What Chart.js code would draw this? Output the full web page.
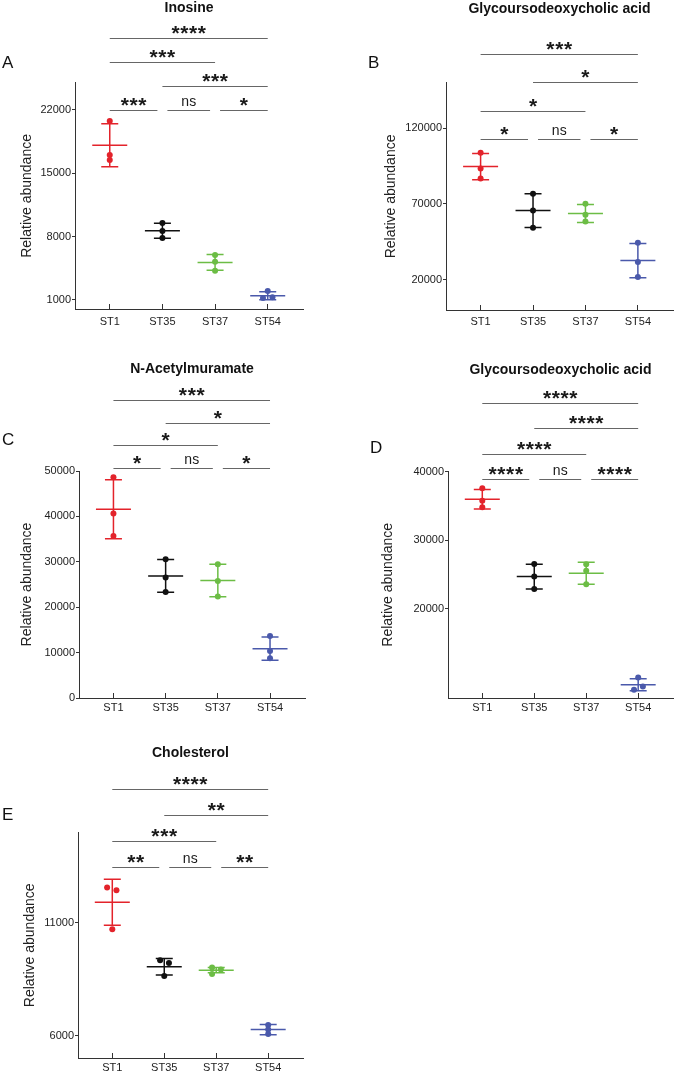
<!DOCTYPE html>
<html>
<head>
<meta charset="utf-8">
<script src="https://cdn.jsdelivr.net/npm/chart.js@4.4.1/dist/chart.umd.min.js"></script>
<style>
  body { margin: 0; background: #fff; width: 677px; height: 1073px; position: relative; overflow: hidden; font-family: "Liberation Sans", Arial, sans-serif; }
  .panel { position: absolute; }
  .letter { position: absolute; font-size: 17px; line-height: 18px; color: #111; }
</style>
</head>
<body>
<div class="panel" style="left:0;top:0"><canvas id="cA" width="338" height="330"></canvas></div>
<div class="panel" style="left:340px;top:0"><canvas id="cB" width="337" height="330"></canvas></div>
<div class="panel" style="left:0;top:330px"><canvas id="cC" width="338" height="390"></canvas></div>
<div class="panel" style="left:340px;top:330px"><canvas id="cD" width="337" height="390"></canvas></div>
<div class="panel" style="left:0;top:720px"><canvas id="cE" width="338" height="353"></canvas></div>
<div class="letter" style="left:2px;top:54px">A</div>
<div class="letter" style="left:368px;top:54px">B</div>
<div class="letter" style="left:2px;top:431px">C</div>
<div class="letter" style="left:370px;top:439px">D</div>
<div class="letter" style="left:2px;top:806px">E</div>
<script>
const groups = ['ST1', 'ST35', 'ST37', 'ST54'];

// A - Inosine
const inosinePoints = [[20780, 17020, 16470], [9500, 8620, 7850], [5970, 5230, 4230], [1980, 1210, 1300]];
const inosineMean = [18090, 8660, 5140, 1470];
const inosineSd = [2380, 830, 870, 440];
const inosineJitter = [[0, 0, 0], [0, 0, 0], [0, 0, 0], [0, -0.09, 0.09]];
const inosineTicks = [1000, 8000, 15000, 22000];
const inosineSig = [[0, 1, 0, '***'], [1, 2, 0, 'ns'], [2, 3, 0, '*'], [1, 3, 1, '***'], [0, 2, 2, '***'], [0, 3, 3, '****']];

// B - Glycoursodeoxycholic acid
const gudcaPoints = [[103840, 93400, 86760], [76780, 65680, 54380], [70130, 62820, 58360], [44400, 31770, 21800]];
const gudcaMean = [94670, 65610, 63770, 32660];
const gudcaSd = [8600, 11200, 5950, 11300];
const gudcaJitter = [[0, 0, 0], [0, 0, 0], [0, 0, 0], [0, 0, 0]];
const gudcaTicks = [20000, 70000, 120000];
const gudcaSig = [[0, 1, 0, '*'], [1, 2, 0, 'ns'], [2, 3, 0, '*'], [0, 2, 1, '*'], [1, 3, 2, '*'], [0, 3, 3, '***']];

// C - N-Acetylmuramate
const namPoints = [[48620, 40640, 35680], [30580, 26520, 23360], [29470, 25790, 22380], [13670, 10350, 8730]];
const namMean = [41590, 26890, 25860, 10860];
const namSd = [6500, 3600, 3580, 2550];
const namJitter = [[0, 0, 0], [0, 0, 0], [0, 0, 0], [0, 0, 0]];
const namTicks = [0, 10000, 20000, 30000, 40000, 50000];
const namSig = [[0, 1, 0, '*'], [1, 2, 0, 'ns'], [2, 3, 0, '*'], [0, 2, 1, '*'], [1, 3, 2, '*'], [0, 3, 3, '***']];

// D - Glycoursodeoxycholic acid
const gudca2Points = [[37580, 35780, 34820], [26550, 24700, 22910], [26500, 25570, 23590], [10000, 8690, 8210]];
const gudca2Mean = [35980, 24700, 25190, 8930];
const gudca2Sd = [1430, 1820, 1600, 880];
const gudca2Jitter = [[0, 0, 0], [0, 0, 0], [0, 0, 0], [0, 0.09, -0.08]];
const gudca2Ticks = [20000, 30000, 40000];
const gudca2Sig = [[0, 1, 0, '****'], [1, 2, 0, 'ns'], [2, 3, 0, '****'], [0, 2, 1, '****'], [1, 3, 2, '****'], [0, 3, 3, '****']];

// E - Cholesterol
const cholPoints = [[12570, 12450, 10720], [9340, 9220, 8640], [9020, 8930, 8730], [6470, 6260, 6060]];
const cholMean = [11910, 9050, 8900, 6260];
const cholSd = [1020, 370, 120, 230];
const cholJitter = [[-0.1, 0.08, 0], [-0.08, 0.09, 0], [-0.08, 0.09, -0.08], [0, 0, 0]];
const cholTicks = [6000, 11000];
const cholSig = [[0, 1, 0, '**'], [1, 2, 0, 'ns'], [2, 3, 0, '**'], [0, 2, 1, '***'], [1, 3, 2, '**'], [0, 3, 3, '****']];

const colors = ['#e3232b', '#111111', '#6cbd45', '#4a59ab'];
const FONT = '"Liberation Sans", Arial, sans-serif';

// mean line + SD whiskers under the dots
const summaryPlugin = {
    id: 'summary',
    beforeDatasetsDraw(chart, args, opts) {
        const ctx = chart.ctx, xs = chart.scales.x, ys = chart.scales.y;
        opts.mean.forEach((m, g) => {
            const cx = xs.getPixelForValue(g + 1);
            const yM = ys.getPixelForValue(m);
            const yHi = ys.getPixelForValue(m + opts.sd[g]);
            const yLo = ys.getPixelForValue(m - opts.sd[g]);
            ctx.save();
            ctx.strokeStyle = colors[g];
            ctx.lineWidth = 1.5;
            ctx.beginPath();
            ctx.moveTo(cx - 17.5, yM); ctx.lineTo(cx + 17.5, yM);
            ctx.moveTo(cx, yHi); ctx.lineTo(cx, yLo);
            ctx.moveTo(cx - 8.5, yHi); ctx.lineTo(cx + 8.5, yHi);
            ctx.moveTo(cx - 8.5, yLo); ctx.lineTo(cx + 8.5, yLo);
            ctx.stroke();
            ctx.restore();
        });
    }
};

// significance brackets above the groups
const sigPlugin = {
    id: 'sig',
    afterDraw(chart, args, opts) {
        const ctx = chart.ctx, xs = chart.scales.x, top = chart.chartArea.top;
        opts.list.forEach((cur) => {
            const [a, b, lvl, label] = cur;
            const shared = (v) => opts.list.some(s => s !== cur && s[2] === lvl && (s[0] === v || s[1] === v));
            let x1 = xs.getPixelForValue(a + 1), x2 = xs.getPixelForValue(b + 1);
            if (shared(a)) x1 += 5;
            if (shared(b)) x2 -= 5;
            const y = Math.round(top + opts.base - lvl * opts.step) + 0.5;
            ctx.save();
            ctx.strokeStyle = '#666';
            ctx.lineWidth = 1;
            ctx.beginPath();
            ctx.moveTo(x1, y); ctx.lineTo(x2, y);
            ctx.stroke();
            ctx.fillStyle = '#1a1a1a';
            ctx.textAlign = 'center';
            ctx.textBaseline = 'alphabetic';
            const mid = (x1 + x2) / 2, cy = y - 9;
            if (label === 'ns') {
                ctx.font = '14px ' + FONT;
                const m = ctx.measureText(label);
                ctx.fillText(label, mid, cy + (m.actualBoundingBoxAscent - m.actualBoundingBoxDescent) / 2);
            } else {
                ctx.font = 'bold 21px ' + FONT;
                const m = ctx.measureText('*');
                const base = cy + (m.actualBoundingBoxAscent - m.actualBoundingBoxDescent) / 2;
                const pitch = 8.8;
                for (let i = 0; i < label.length; i++) {
                    ctx.fillText('*', mid + (i - (label.length - 1) / 2) * pitch, base);
                }
            }
            ctx.restore();
        });
    }
};

function makePanel(p) {
    const datasets = p.points.map((vals, g) => ({
        data: vals.map((v, i) => ({ x: g + 1 + p.jitter[g][i], y: v })),
        backgroundColor: colors[g],
        borderColor: colors[g],
        borderWidth: 0,
        pointRadius: 3,
        pointHoverRadius: 3
    }));
    return new Chart(document.getElementById(p.id), {
        type: 'scatter',
        data: { datasets: datasets },
        plugins: [summaryPlugin, sigPlugin],
        options: {
            responsive: false,
            animation: false,
            clip: false,
            layout: { padding: { left: 0, right: p.padRight, top: 0, bottom: 0 } },
            plugins: {
                legend: { display: false },
                tooltip: { enabled: false },
                title: {
                    display: true,
                    text: p.title,
                    fullSize: false,
                    color: '#111',
                    font: { family: FONT, size: 14, weight: 'bold' },
                    padding: { top: p.titleTop, bottom: p.titleBottom }
                },
                summary: { mean: p.mean, sd: p.sd },
                sig: { list: p.sig, base: p.base, step: p.step }
            },
            scales: {
                x: {
                    type: 'linear',
                    min: 0.34,
                    max: 4.67,
                    afterBuildTicks: (s) => { s.ticks = [1, 2, 3, 4].map(v => ({ value: v })); },
                    afterFit: (s) => { s.height = p.xH; },
                    ticks: {
                        callback: (v) => groups[v - 1],
                        color: '#222',
                        font: { family: FONT, size: 11 },
                        padding: p.xPad,
                        maxRotation: 0,
                        autoSkip: false
                    },
                    grid: { drawOnChartArea: false, tickLength: -5, color: '#333' },
                    border: { color: '#333', width: 1 }
                },
                y: {
                    type: 'linear',
                    min: p.yMin,
                    max: p.yMax,
                    afterBuildTicks: (s) => { s.ticks = p.ticks.map(v => ({ value: v })); },
                    afterFit: (s) => { s.width = p.yW; },
                    ticks: {
                        callback: (v) => String(v),
                        color: '#222',
                        font: { family: FONT, size: 11 },
                        padding: 1
                    },
                    grid: { drawOnChartArea: false, tickLength: 3, color: '#333' },
                    border: { color: '#333', width: 1 },
                    title: {
                        display: true,
                        text: 'Relative abundance',
                        color: '#222',
                        font: { family: FONT, size: 14 },
                        padding: { top: p.yTitlePad, bottom: 0 }
                    }
                }
            }
        }
    });
}

makePanel({ id: 'cA', title: 'Inosine', points: inosinePoints, mean: inosineMean, sd: inosineSd, jitter: inosineJitter,
    ticks: inosineTicks, sig: inosineSig, yMin: 0, yMax: 25000,
    yW: 75, xH: 21, padRight: 35, titleTop: 0, titleBottom: 66, yTitlePad: 19, xPad: 11, base: 27, step: 24 });
makePanel({ id: 'cB', title: 'Glycoursodeoxycholic acid', points: gudcaPoints, mean: gudcaMean, sd: gudcaSd, jitter: gudcaJitter,
    ticks: gudcaTicks, sig: gudcaSig, yMin: 0, yMax: 150000,
    yW: 106, xH: 20, padRight: 4, titleTop: 1, titleBottom: 65, yTitlePad: 43, xPad: 10, base: 56, step: 28.2 });
makePanel({ id: 'cC', title: 'N-Acetylmuramate', points: namPoints, mean: namMean, sd: namSd, jitter: namJitter,
    ticks: namTicks, sig: namSig, yMin: 0, yMax: 50000,
    yW: 79, xH: 22, padRight: 33, titleTop: 30.6, titleBottom: 93.6, yTitlePad: 19, xPad: 8.5, base: -3.3, step: 22.5 });
makePanel({ id: 'cD', title: 'Glycoursodeoxycholic acid', points: gudca2Points, mean: gudca2Mean, sd: gudca2Sd, jitter: gudca2Jitter,
    ticks: gudca2Ticks, sig: gudca2Sig, yMin: 7000, yMax: 40000,
    yW: 108, xH: 22, padRight: 4, titleTop: 31.6, titleBottom: 93.3, yTitlePad: 40, xPad: 8.5, base: 7.3, step: 25.3 });
makePanel({ id: 'cE', title: 'Cholesterol', points: cholPoints, mean: cholMean, sd: cholSd, jitter: cholJitter,
    ticks: cholTicks, sig: cholSig, yMin: 5000, yMax: 15000,
    yW: 78, xH: 15, padRight: 35, titleTop: 24.6, titleBottom: 71.3, yTitlePad: 21.6, xPad: 8, base: 34.3, step: 25.9 });
</script>
</body>
</html>
